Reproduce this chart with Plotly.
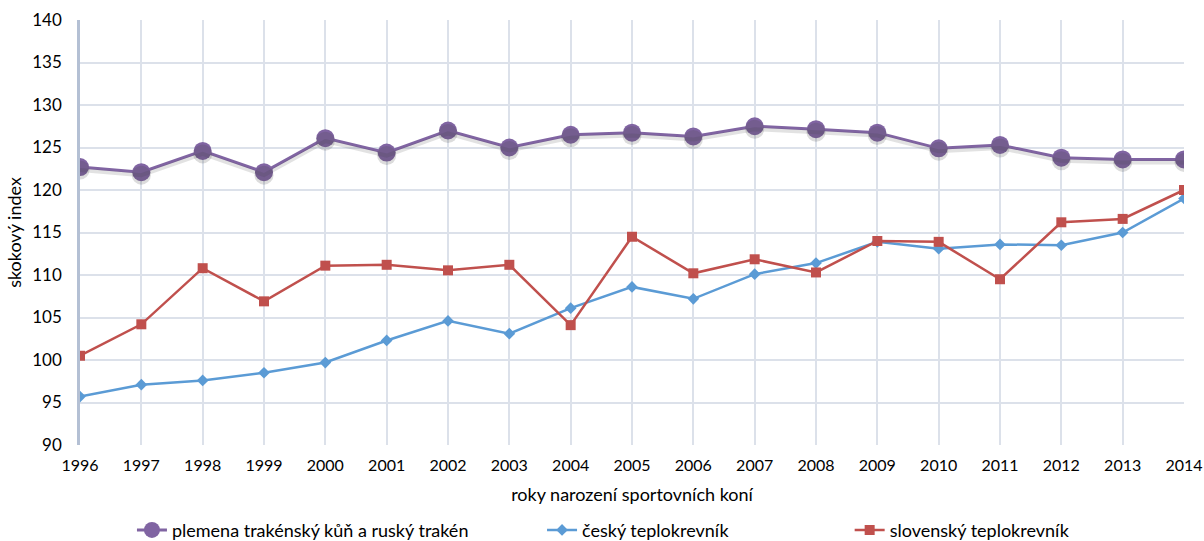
import plotly.graph_objects as go

# roky narození
roky = list(range(1996, 2015))

# skokový index podle plemen
trakeni = [122.7, 122.1, 124.6, 122.1, 126.1, 124.4, 127.0, 125.0, 126.5, 126.75,
           126.3, 127.5, 127.15, 126.75, 124.9, 125.3, 123.8, 123.6, 123.6]
cesky = [95.7, 97.1, 97.6, 98.5, 99.7, 102.3, 104.6, 103.1, 106.1, 108.6,
         107.2, 110.1, 111.4, 113.9, 113.1, 113.6, 113.5, 115.0, 119.0]
slovensky = [100.5, 104.2, 110.8, 106.9, 111.1, 111.2, 110.55, 111.2, 104.1, 114.5,
             110.2, 111.85, 110.3, 114.0, 113.9, 109.5, 116.2, 116.6, 120.0]

nazvy = ["plemena trakénský kůň a ruský trakén", "český teplokrevník", "slovenský teplokrevník"]
y_ticks = list(range(90, 145, 5))

FONT = "Lato"
W, H = 1204, 541
fig = go.Figure()

# jemný stín pod fialovou řadou (posunutá osa y2)
fig.add_trace(go.Scatter(
    x=roky, y=trakeni, mode="lines+markers", yaxis="y2", showlegend=False, hoverinfo="skip",
    line=dict(color="rgba(60,60,60,0.15)", width=4),
    marker=dict(symbol="circle", size=19, color="rgba(60,60,60,0.18)"),
))

fig.add_trace(go.Scatter(
    x=roky, y=trakeni, mode="lines+markers", name=nazvy[0], legend="legend",
    line=dict(color="#8064A2", width=3),
    marker=dict(symbol="circle", size=18, color="#8064A2"),
))
fig.add_trace(go.Scatter(
    x=roky, y=cesky, mode="lines+markers", name=nazvy[1], legend="legend2",
    line=dict(color="#5B9BD5", width=2.5),
    marker=dict(symbol="diamond", size=9, color="#5B9BD5"),
))
fig.add_trace(go.Scatter(
    x=roky, y=slovensky, mode="lines+markers", name=nazvy[2], legend="legend3",
    line=dict(color="#C0504D", width=2.5),
    marker=dict(symbol="square", size=10, color="#C0504D"),
))

leg = dict(orientation="h", yanchor="middle", xanchor="left", bgcolor="rgba(0,0,0,0)",
           font=dict(family=FONT, size=18, color="#000000"), itemwidth=30,
           xref="container", yref="container", y=0.02)

fig.update_layout(
    width=W, height=H,
    margin=dict(l=80, r=20, t=20, b=96, autoexpand=False),
    paper_bgcolor="white", plot_bgcolor="white",
    font=dict(family=FONT, size=16, color="#000000"),
    xaxis=dict(
        range=[1996, 2014], tickmode="array", tickvals=roky, ticktext=[str(r) for r in roky],
        showgrid=True, gridcolor="#DCE1EA", gridwidth=1.5, zeroline=False,
        showline=False, ticks="", tickfont=dict(family=FONT, size=16),
        ticklabelstandoff=9, ticklabeloverflow="allow", automargin=False,
        title=dict(text="roky narození sportovních koní", font=dict(family=FONT, size=18), standoff=15),
    ),
    yaxis=dict(
        range=[90, 140], tickmode="array", tickvals=y_ticks,
        showgrid=True, gridcolor="#DCE1EA", gridwidth=1.5, zeroline=False,
        showline=True, linecolor="#B4C0D4", linewidth=2.5, ticks="",
        tickfont=dict(family=FONT, size=17), ticklabelstandoff=12, automargin=False,
        title=dict(text="skokový index", font=dict(family=FONT, size=18), standoff=6),
    ),
    yaxis2=dict(range=[90.35, 140.35], overlaying="y", visible=False),
    legend=dict(leg, x=0.1096),
    legend2=dict(leg, x=0.4502),
    legend3=dict(leg, x=0.7057),
)

# bez okraje stránky, aby graf vyplnil celé okno
fig.write_html("out.html", config={"displayModeBar": False},
               post_script="document.body.style.margin='0';")
